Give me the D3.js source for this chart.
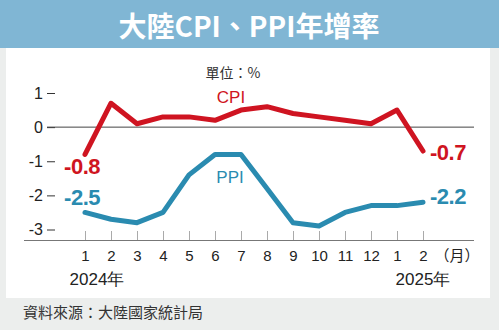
<!DOCTYPE html>
<html>
<head>
<meta charset="utf-8">
<script src="https://cdn.jsdelivr.net/npm/d3@7"></script>
<style>
  html, body { margin: 0; padding: 0; background: #eceeed; }
  svg { display: block; }
</style>
</head>
<body>
<svg id="chart" width="499" height="330"></svg>
<script>
// Monthly year-on-year change (%), Jan 2024 – Feb 2025
const months = ["1", "2", "3", "4", "5", "6", "7", "8", "9", "10", "11", "12", "1", "2"];
const cpi = [-0.8, 0.7, 0.1, 0.3, 0.3, 0.2, 0.5, 0.6, 0.4, 0.3, 0.2, 0.1, 0.5, -0.7];
const ppi = [-2.5, -2.7, -2.8, -2.5, -1.4, -0.8, -0.8, -1.8, -2.8, -2.9, -2.5, -2.3, -2.3, -2.2];
const yTicks = [1, 0, -1, -2, -3];
const years = [{ label: "2024年", index: 0 }, { label: "2025年", index: 13 }];

const W = 499, H = 330;
const svg = d3.select("#chart");

const red = "#cf1421";
const teal = "#2a8bb0";
const latin = "'Liberation Sans', Arial, sans-serif";
const cjk = "'Noto Sans CJK TC', 'Noto Sans CJK SC', sans-serif";

// plain hyphen for negatives instead of the typographic minus
const hyphen = f => v => f(v).replace("\u2212", "-");
const fmtInt = hyphen(d3.format("d"));
const fmtOne = hyphen(d3.format(".1f"));

// page background, title band and white plotting panel
svg.append("rect").attr("width", W).attr("height", H).attr("fill", "#eceeed");
svg.append("rect").attr("x", 6).attr("y", 48).attr("width", 484).attr("height", 250).attr("fill", "#ffffff");
svg.append("rect").attr("width", W).attr("height", 48).attr("fill", "#80b6d4");

svg.append("text")
  .attr("x", 249).attr("y", 25)
  .attr("text-anchor", "middle").attr("dominant-baseline", "central")
  .attr("font-family", cjk).attr("font-weight", 700).attr("font-size", 28)
  .attr("fill", "#ffffff")
  .text("大陸CPI、PPI年增率");

// scales
const idx = d3.range(months.length);
const x = d3.scalePoint().domain(idx).range([85, 423]);
const y = d3.scaleLinear().domain([-3, 1]).range([229.5, 93]);

// unit note
svg.append("text")
  .attr("x", 233).attr("y", 78)
  .attr("text-anchor", "middle")
  .attr("font-family", cjk).attr("font-size", 14).attr("fill", "#333")
  .text("單位：%");

// y axis (short ticks, no domain line)
const yAxis = svg.append("g")
  .attr("transform", "translate(55,0)")
  .call(d3.axisLeft(y).tickValues(yTicks).tickFormat(fmtInt).tickSize(8).tickPadding(4));
yAxis.select(".domain").remove();
yAxis.selectAll(".tick line").attr("stroke", "#333").attr("stroke-width", 1);
yAxis.selectAll(".tick text")
  .attr("font-family", latin).attr("font-size", 16).attr("fill", "#222");

// zero reference line
svg.append("line")
  .attr("x1", 47).attr("x2", 474)
  .attr("y1", y(0)).attr("y2", y(0))
  .attr("stroke", "#444").attr("stroke-width", 1);

// x axis: baseline with upward ticks
const xAxis = svg.append("g")
  .attr("transform", "translate(0,240)")
  .call(d3.axisBottom(x).tickFormat(i => months[i]).tickSize(-9).tickPadding(10).tickSizeOuter(0));
xAxis.select(".domain").remove();
xAxis.selectAll(".tick line").attr("stroke", "#aaa").attr("stroke-width", 1);
xAxis.selectAll(".tick text")
  .attr("font-family", latin).attr("font-size", 15).attr("fill", "#222");

svg.append("line")
  .attr("x1", 24).attr("x2", 474).attr("y1", 240.5).attr("y2", 240.5)
  .attr("stroke", "#777").attr("stroke-width", 1);

svg.append("text")
  .attr("x", 457).attr("y", 261)
  .attr("text-anchor", "middle")
  .attr("font-family", cjk).attr("font-size", 15).attr("fill", "#222")
  .text("（月）");

svg.selectAll(".year")
  .data(years)
  .join("text")
  .attr("class", "year")
  .attr("x", d => x(d.index) + (d.index === 0 ? 12 : 0))
  .attr("y", 285)
  .attr("text-anchor", "middle")
  .attr("font-family", latin).attr("font-size", 17).attr("fill", "#222")
  .text(d => d.label);

// series lines
const line = d3.line().x((d, i) => x(i)).y(d => y(d));

[[ppi, teal], [cpi, red]].forEach(([vals, col]) => {
  svg.append("path")
    .datum(vals)
    .attr("d", line)
    .attr("fill", "none")
    .attr("stroke", col)
    .attr("stroke-width", 5)
    .attr("stroke-linejoin", "round")
    .attr("stroke-linecap", "round");
});

// series names
svg.append("text")
  .attr("x", 231).attr("y", 103)
  .attr("text-anchor", "middle")
  .attr("font-family", latin).attr("font-size", 17).attr("fill", red)
  .text("CPI");
svg.append("text")
  .attr("x", 230).attr("y", 183)
  .attr("text-anchor", "middle")
  .attr("font-family", latin).attr("font-size", 17).attr("fill", teal)
  .text("PPI");

// endpoint value labels
const last = months.length - 1;
const endLabels = [
  { v: cpi[0], i: 0, col: red, anchor: "end", dx: 15, dy: 20 },
  { v: ppi[0], i: 0, col: teal, anchor: "end", dx: 15, dy: -7 },
  { v: cpi[last], i: last, col: red, anchor: "start", dx: 7, dy: 9 },
  { v: ppi[last], i: last, col: teal, anchor: "start", dx: 7, dy: 2 }
];
svg.selectAll(".endlabel")
  .data(endLabels)
  .join("text")
  .attr("class", "endlabel")
  .attr("x", d => x(d.i) + d.dx)
  .attr("y", d => y(d.v) + d.dy)
  .attr("text-anchor", d => d.anchor)
  .attr("font-family", latin).attr("font-weight", 700).attr("font-size", 22)
  .attr("fill", d => d.col)
  .attr("stroke", "#fff").attr("stroke-width", 3).attr("paint-order", "stroke")
  .attr("letter-spacing", -0.5)
  .text(d => fmtOne(d.v));

// source note
svg.append("text")
  .attr("x", 23).attr("y", 318)
  .attr("font-family", cjk).attr("font-size", 15).attr("fill", "#333")
  .text("資料來源：大陸國家統計局");
</script>
</body>
</html>
